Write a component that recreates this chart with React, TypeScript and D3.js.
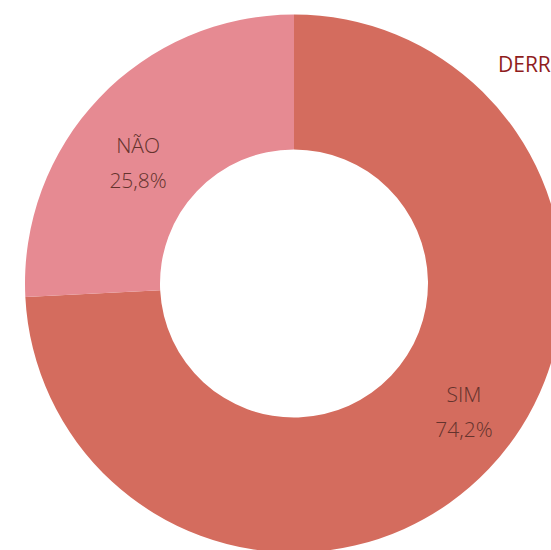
import React from "react";
import * as d3 from "d3";

// Share of answers
const categories = ["SIM", "NÃO"];
const values = [74.2, 25.8];
const colors = ["#d46c5e", "#e68a92"];
const title = "DERROTA";

const W = 551;
const H = 550;
const cx = 294;
const cy = 283.5;
const outerR = 269;
const innerR = 134;

export default function App() {
  const data = categories.map((c, i) => ({ name: c, value: values[i], color: colors[i] }));
  const pie = d3.pie<any>().sort(null).value((d) => d.value);
  const arcs = pie(data);
  const arc = d3.arc<any>().innerRadius(innerR).outerRadius(outerR);
  const labelR = 205;
  const labelShift = -0.108;
  const fmt = (v: number) => v.toFixed(1).replace(".", ",") + "%";

  return (
    <svg width={W} height={H} style={{ position: "absolute", left: 0, top: 0 }}>
      <g transform={`translate(${cx},${cy})`}>
        {arcs.map((a, i) => (
          <path key={i} d={arc(a) as string} fill={a.data.color} />
        ))}
        {arcs.map((a, i) => {
          const mid = (a.startAngle + a.endAngle) / 2 + labelShift;
          const x = 7 + labelR * Math.sin(mid);
          const y = 6 - labelR * Math.cos(mid);
          return (
            <g key={"l" + i} transform={`translate(${x},${y})`} fill="#64332d"
              fontFamily="'Open Sans', sans-serif" fontWeight={300} fontSize={21} textAnchor="middle">
              <text y={-12}>{a.data.name}</text>
              <text y={23}>{fmt(a.data.value)}</text>
            </g>
          );
        })}
      </g>
      <text x={498} y={72} fill="#8f1d1d" fontFamily="'Open Sans', sans-serif" fontWeight={400} fontSize={21}>
        {title}
      </text>
    </svg>
  );
}
